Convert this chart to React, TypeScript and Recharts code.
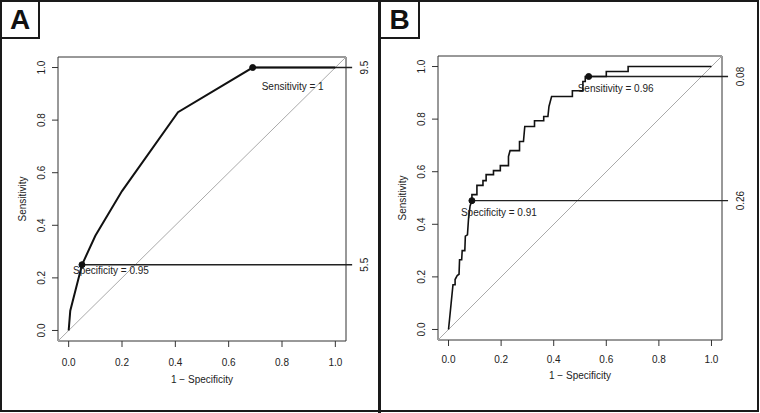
import React from 'react';
import { LineChart, Line, XAxis, YAxis, ReferenceLine, ReferenceDot, ReferenceArea } from 'recharts';

const FONT = '"Liberation Sans", Arial, Helvetica, sans-serif';

// axis ticks shared by both panels
const ticks = [0, 0.2, 0.4, 0.6, 0.8, 1];
const tickLabels = ['0.0', '0.2', '0.4', '0.6', '0.8', '1.0'];
const domain = [-0.04, 1.04];
const lineEnd = 1.063;

// panel A: ROC curve (1 - specificity, sensitivity)
const rocAFpr = [0, 0.006, 0.05, 0.1, 0.2, 0.41, 0.69, 1];
const rocASens = [0, 0.075, 0.25, 0.36, 0.53, 0.83, 1, 1];
const cutsAFpr = [0.05, 0.69];
const cutsASens = [0.25, 1];
const cutsALabel = ['5.5', '9.5'];
const cutsANote = ['Specificity = 0.95', 'Sensitivity = 1'];

// panel B: empirical ROC curve
const rocBFpr = [
  0, 0.004, 0.01, 0.017, 0.025, 0.025, 0.033, 0.04, 0.042, 0.05, 0.052, 0.062, 0.064, 0.072, 0.076, 0.082,
  0.089, 0.089, 0.108, 0.108, 0.131, 0.131, 0.143, 0.143, 0.171, 0.171, 0.197, 0.197, 0.228, 0.228, 0.234,
  0.27, 0.27, 0.285, 0.29, 0.327, 0.327, 0.362, 0.362, 0.378, 0.382, 0.392, 0.471, 0.471, 0.511, 0.511,
  0.52, 0.52, 0.533, 0.6, 0.6, 0.683, 0.683, 1,
];
const rocBSens = [
  0, 0.04, 0.1, 0.17, 0.17, 0.19, 0.205, 0.21, 0.265, 0.265, 0.3, 0.3, 0.355, 0.36, 0.42, 0.47,
  0.49, 0.513, 0.513, 0.548, 0.548, 0.566, 0.566, 0.589, 0.589, 0.604, 0.604, 0.623, 0.623, 0.658, 0.68,
  0.68, 0.715, 0.715, 0.772, 0.772, 0.794, 0.794, 0.81, 0.81, 0.848, 0.886, 0.886, 0.908, 0.908, 0.943,
  0.943, 0.962, 0.962, 0.962, 0.981, 0.981, 1, 1,
];
const cutsBFpr = [0.089, 0.533];
const cutsBSens = [0.49, 0.962];
const cutsBLabel = ['0.26', '0.08'];
const cutsBNote = ['Specificity = 0.91', 'Sensitivity = 0.96'];

const rowsA = rocAFpr.map((fpr, i) => ({ fpr, sens: rocASens[i] }));
const rowsB = rocBFpr.map((fpr, i) => ({ fpr, sens: rocBSens[i] }));

const textStyle = { fontSize: 10, fontFamily: FONT, fill: '#222' };

const YTick = (props: any) => {
  const { x, y, index } = props;
  const bx = x - 7;
  return (
    <text x={bx} y={y} transform={`rotate(-90, ${bx}, ${y})`} textAnchor="middle" {...textStyle}>
      {tickLabels[index]}
    </text>
  );
};

const makeXTick = (dy: number) => (props: any) => {
  const { x, y, index } = props;
  return (
    <text x={x} y={y + dy} textAnchor="middle" {...textStyle}>
      {tickLabels[index]}
    </text>
  );
};

type PanelProps = {
  rows: { fpr: number; sens: number }[];
  cutFpr: number[];
  cutSens: number[];
  cutLabel: string[];
  cutNote: string[];
  noteOffsets: number[][];
  margin: { top: number; right: number; bottom: number; left: number };
  strokeWidth: number;
  tickDy: number;
  titleDy: number;
};

const Panel = (p: PanelProps) => (
  <LineChart width={380} height={413} data={p.rows} margin={p.margin}>
    <XAxis
      dataKey="fpr"
      type="number"
      domain={domain}
      ticks={ticks}
      axisLine={false}
      tickLine={{ stroke: '#333' }}
      tickSize={6}
      tickMargin={0}
      height={30}
      tick={makeXTick(p.tickDy)}
      label={(lp: any) => {
        const vb = lp.viewBox;
        return (
          <text x={vb.x + vb.width / 2} y={vb.y + p.titleDy} textAnchor="middle" {...textStyle}>
            1 − Specificity
          </text>
        );
      }}
    />
    <YAxis
      type="number"
      domain={domain}
      ticks={ticks}
      axisLine={false}
      tickLine={{ stroke: '#333' }}
      tickSize={6}
      tickMargin={0}
      width={30}
      tick={YTick}
      label={(lp: any) => {
        const vb = lp.viewBox;
        const lx = vb.x - 2;
        const ly = vb.y + vb.height / 2;
        return (
          <text x={lx} y={ly} transform={`rotate(-90, ${lx}, ${ly})`} textAnchor="middle" {...textStyle}>
            Sensitivity
          </text>
        );
      }}
    />
    <ReferenceArea x1={-0.04} x2={1.04} y1={-0.04} y2={1.04} fill="none" stroke="#333" strokeWidth={1} ifOverflow="visible" />
    <ReferenceLine
      segment={[{ x: -0.04, y: -0.04 }, { x: 1.04, y: 1.04 }]}
      stroke="#aaa"
      strokeWidth={1}
      ifOverflow="visible"
    />
    {p.cutFpr.map((fpr, i) => (
      <ReferenceLine
        key={`l${i}`}
        segment={[{ x: fpr, y: p.cutSens[i] }, { x: lineEnd, y: p.cutSens[i] }]}
        stroke="#222"
        strokeWidth={1.3}
        ifOverflow="visible"
        label={(lp: any) => {
          const vb = lp.viewBox;
          const lx = vb.x + vb.width + 16;
          const ly = vb.y;
          return (
            <text x={lx} y={ly} transform={`rotate(-90, ${lx}, ${ly})`} textAnchor="middle" {...textStyle}>
              {p.cutLabel[i]}
            </text>
          );
        }}
      />
    ))}
    <Line
      dataKey="sens"
      type="linear"
      stroke="#111"
      strokeWidth={p.strokeWidth}
      dot={false}
      activeDot={false}
      isAnimationActive={false}
    />
    {p.cutFpr.map((fpr, i) => (
      <ReferenceDot
        key={`d${i}`}
        x={fpr}
        y={p.cutSens[i]}
        r={3}
        fill="#111"
        stroke="#111"
        label={(lp: any) => {
          const vb = lp.viewBox;
          const cx = vb.x + vb.width / 2;
          const cy = vb.y + vb.height / 2;
          return (
            <text x={cx + p.noteOffsets[i][0]} y={cy + p.noteOffsets[i][1] + 3.6} textAnchor="start" {...textStyle}>
              {p.cutNote[i]}
            </text>
          );
        }}
      />
    ))}
  </LineChart>
);

const tagBox = (left: number, width: number): React.CSSProperties => ({
  position: 'absolute',
  left,
  top: 0,
  width,
  height: 39,
  boxSizing: 'border-box',
  border: '2.5px solid #1a1a1a',
  display: 'flex',
  alignItems: 'center',
  justifyContent: 'center',
  fontFamily: FONT,
  fontWeight: 700,
  fontSize: 28,
  color: '#111',
  background: '#fff',
});

export default function App() {
  return (
    <div style={{ position: 'absolute', left: 0, top: 0, width: 760, height: 413, background: '#fff', overflow: 'hidden' }}>
      <div style={{ position: 'absolute', left: 0, top: 0 }}>
        <Panel
          rows={rowsA}
          cutFpr={cutsAFpr}
          cutSens={cutsASens}
          cutLabel={cutsALabel}
          cutNote={cutsANote}
          noteOffsets={[[-9, 6], [9, 19]]}
          margin={{ top: 57, right: 34, bottom: 42, left: 28 }}
          strokeWidth={2}
          tickDy={19}
          titleDy={42}
        />
      </div>
      <div style={{ position: 'absolute', left: 380, top: 0 }}>
        <Panel
          rows={rowsB}
          cutFpr={cutsBFpr}
          cutSens={cutsBSens}
          cutLabel={cutsBLabel}
          cutNote={cutsBNote}
          noteOffsets={[[-11, 12], [-11, 12]]}
          margin={{ top: 56, right: 38, bottom: 43, left: 28 }}
          strokeWidth={1.6}
          tickDy={17}
          titleDy={39}
        />
      </div>
      <div
        style={{
          position: 'absolute',
          left: 0,
          top: 0,
          width: 759,
          height: 412,
          boxSizing: 'border-box',
          border: '2px solid #1a1a1a',
          pointerEvents: 'none',
        }}
      />
      <div style={{ position: 'absolute', left: 378, top: 0, width: 3, height: 413, background: '#1a1a1a' }} />
      <div style={tagBox(0, 40)}>A</div>
      <div style={tagBox(379, 41)}>B</div>
    </div>
  );
}
